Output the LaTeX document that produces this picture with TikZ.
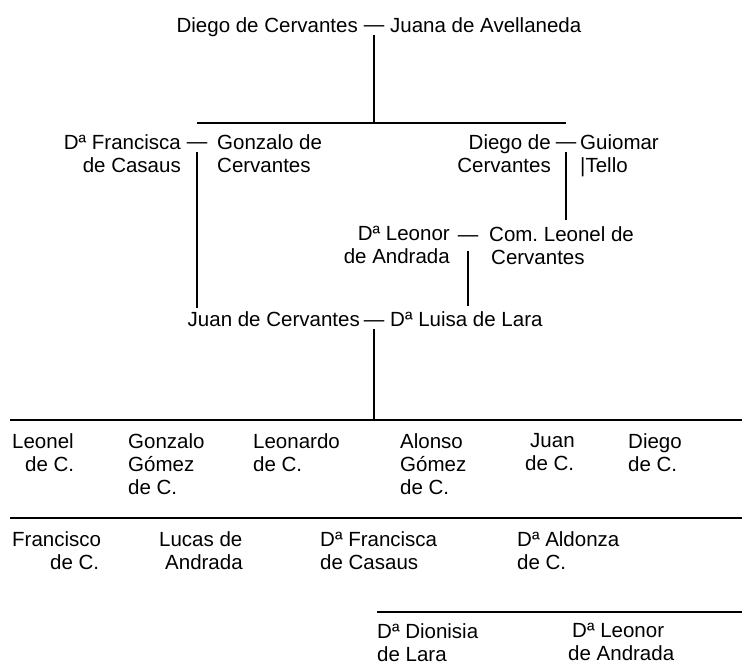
\documentclass[tikz,border=0pt]{standalone}
\usepackage{fontspec}
\setmainfont{Liberation Sans}
\begin{document}
\begin{tikzpicture}[x=1pt, y=-1pt]
        \tikzstyle{person} = [inner sep=0pt, font=\fontsize{20.5}{23}\selectfont]
        \tikzstyle{lperson} = [person, align=left, anchor=north west]
        \tikzstyle{rperson} = [person, align=right, anchor=north east]
        \tikzstyle{wed} = [person, anchor=base]
        \tikzstyle{bar} = [line width=1.3pt]
        \useasboundingbox (0,0) rectangle (742,666);

        \node[rperson] (p1) at (358,17) {Diego de Cervantes};
        \node[wed] (p0) at (374,32) {—};
        \node[lperson] (p2) at (390,17) {Juana de Avellaneda};

        \node[rperson] (f1) at (181,134) {Dª Francisca\\de Casaus};
        \node[wed] (fd) at (197,149) {—};
        \node[lperson] (g1) at (217,134) {Gonzalo de\\Cervantes};

        \node[rperson] (dc) at (551,134) {Diego de\\Cervantes};
        \node[wed] (dd) at (566,149) {—};
        \node[lperson] (gt) at (580,134) {Guiomar\\|Tello};

        \node[rperson] (lo) at (450,226) {Dª Leonor\\de Andrada};
        \node[wed] (ld) at (468,241) {—};
        \node[lperson] (cl) at (489,226) {Com.\ Leonel de\\\hspace*{2pt}Cervantes};

        \node[rperson] (jc) at (360,311) {Juan de Cervantes};
        \node[wed] (jd) at (374,326) {—};
        \node[lperson] (ll) at (390,311) {Dª Luisa de Lara};

        \node[lperson] (c1) at (12,433) {Leonel\\\hspace*{13pt}de C.};
        \node[lperson] (c2) at (128,433) {Gonzalo\\Gómez\\de C.};
        \node[lperson] (c3) at (253,433) {Leonardo\\de C.};
        \node[lperson] (c4) at (400,433) {Alonso\\Gómez\\de C.};
        \node[lperson] (c5) at (525,433) {\hspace*{5pt}Juan\\de C.};
        \node[lperson] (c6) at (628,433) {Diego\\de C.};

        \node[lperson] (s1) at (12,531) {Francisco\\\hspace*{38pt}de C.};
        \node[lperson] (s2) at (159,531) {Lucas de\\\hspace*{6pt}Andrada};
        \node[lperson] (s3) at (320,531) {Dª Francisca\\de Casaus};
        \node[lperson] (s4) at (517,531) {Dª Aldonza\\de C.};

        \node[lperson] (e1) at (377,623) {Dª Dionisia\\de Lara};
        \node[lperson] (e2) at (568,623) {\hspace*{4pt}Dª Leonor\\de Andrada};

        \coordinate (b1w) at (197,123);
        \coordinate (b1e) at (566,123);
        \coordinate (b2w) at (10,420);
        \coordinate (b2e) at (742,420);
        \coordinate (b3w) at (10,518);
        \coordinate (b3e) at (742,518);
        \coordinate (b4w) at (377,612);
        \coordinate (b4e) at (742,612);

        \draw[bar] (b1w) -- (b1e);
        \draw[bar] (b2w) -- (b2e);
        \draw[bar] (b3w) -- (b3e);
        \draw[bar] (b4w) -- (b4e);
        \draw[bar, shorten <=3pt] (p0.south) -- (p0.south |- b1w);
        \draw[bar, shorten <=3pt, shorten >=3pt] (fd.south) -- (fd.south |- jc.north);
        \draw[bar, shorten <=3pt, shorten >=6pt] (dd.south) -- (dd.south |- cl.north);
        \draw[bar, shorten <=10pt, shorten >=5pt] (ld.south) -- (ld.south |- ll.north);
        \draw[bar, shorten <=3pt] (jd.south) -- (jd.south |- b2w);
\end{tikzpicture}
\end{document}
